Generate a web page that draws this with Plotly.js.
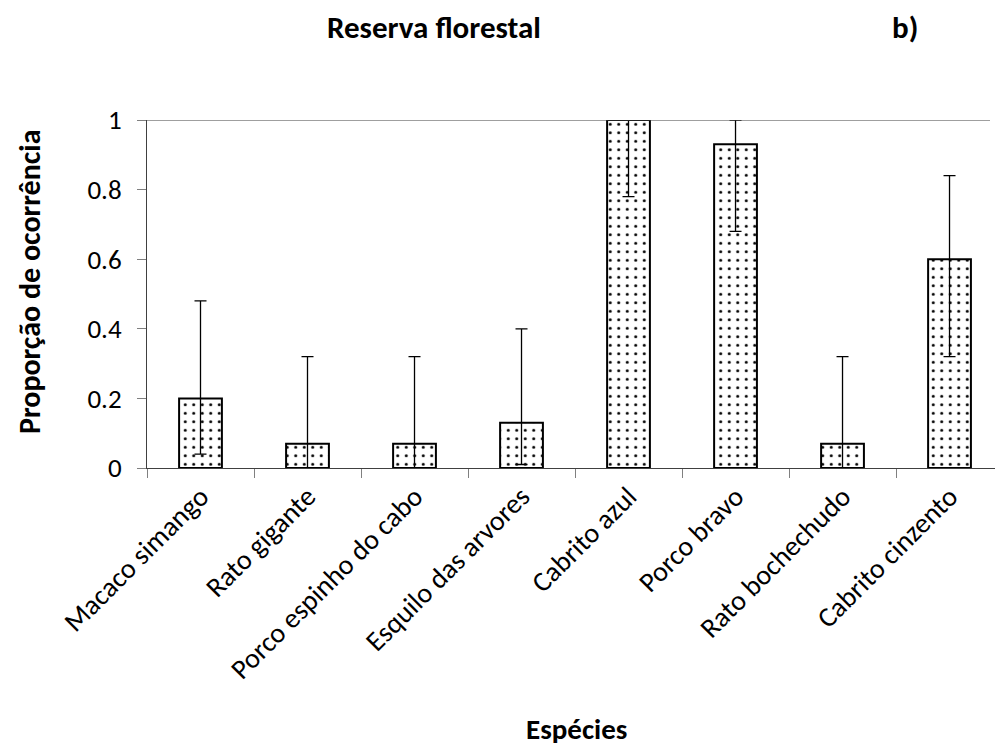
<!DOCTYPE html>
<html>
<head>
<meta charset="utf-8">
<script src="https://cdn.plot.ly/plotly-3.0.1.min.js"></script>
<style>html,body{margin:0;padding:0;background:#fff;}#chart{width:995px;height:749px;}</style>
</head>
<body>
<div id="chart"></div>
<script>
const especies = ["Macaco simango","Rato gigante","Porco espinho do cabo","Esquilo das arvores","Cabrito azul","Porco bravo","Rato bochechudo","Cabrito cinzento"];
const proporcao = [0.20, 0.07, 0.07, 0.13, 1.00, 0.93, 0.07, 0.60];
const limiteSuperior = [0.48, 0.32, 0.32, 0.40, 1.00, 1.00, 0.32, 0.84];
const limiteInferior = [0.04, 0.00, 0.00, 0.01, 0.78, 0.68, 0.00, 0.32];

const errUp = proporcao.map((v,i)=>limiteSuperior[i]-v);
const errDown = proporcao.map((v,i)=>v-limiteInferior[i]);
const FONT = "Carlito, Lato, 'Liberation Sans', sans-serif";

const trace = {
  type: 'bar',
  x: especies,
  y: proporcao,
  width: 0.4,
  marker: {
    color: '#ffffff',
    line: {color: '#000000', width: 2},
    pattern: {shape: '.', fgcolor: '#000000', bgcolor: '#ffffff', size: 8.5, solidity: 0.1}
  },
  error_y: {
    type: 'data', symmetric: false,
    array: errUp, arrayminus: errDown,
    color: '#000000', thickness: 1.3, width: 6
  },
  hoverinfo: 'none'
};

const L = 147, T = 120, B = 281, W = 995, H = 749;
const pw = W - L, ph = H - T - B;
function px(x){ return (x - L) / pw; }
function py(y){ return (H - B - y) / ph; }

const layout = {
  width: W, height: H,
  margin: {l: L, r: 0, t: T, b: B},
  paper_bgcolor: '#ffffff', plot_bgcolor: '#ffffff',
  showlegend: false,
  font: {family: FONT, size: 28, color: '#000000'},
  xaxis: {
    type: 'category',
    range: [-0.5, 7.425],
    tickangle: -45,
    ticks: 'outside', ticklen: 9, tickcolor: '#808080', tickson: 'boundaries',
    showline: true, linecolor: '#404040', linewidth: 1,
    showgrid: false, zeroline: false,
    tickfont: {family: FONT, size: 28, color: '#000000'}
  },
  yaxis: {
    range: [0, 1], dtick: 0.2, tick0: 0,
    ticks: 'outside', ticklen: 9, tickcolor: '#808080',
    ticklabelstandoff: 10,
    showline: true, linecolor: '#404040', linewidth: 1,
    showgrid: false, zeroline: false,
    tickfont: {family: FONT, size: 27, color: '#000000'}
  },
  shapes: [
    {type: 'line', xref: 'paper', yref: 'y', x0: 0, x1: (990 - L) / pw, y0: 1, y1: 1, line: {color: '#404040', width: 1}, layer: 'above'}
  ],
  annotations: [
    {text: '<b>Reserva florestal</b>', x: px(434), y: py(27), font: {family: FONT, size: 31, color: '#000000'}},
    {text: '<b>b)</b>', x: px(905), y: py(27), font: {family: FONT, size: 31, color: '#000000'}},
    {text: '<b>Espécies</b>', x: px(576), y: py(729), font: {family: FONT, size: 29, color: '#000000'}},
    {text: '<b>Proporção de ocorrência</b>', x: px(29), y: py(282), textangle: -90, font: {family: FONT, size: 30, color: '#000000'}}
  ].map(a => Object.assign({xref: 'paper', yref: 'paper', showarrow: false, xanchor: 'center', yanchor: 'middle'}, a))
};

Plotly.newPlot('chart', [trace], layout, {staticPlot: true, displayModeBar: false});
</script>
</body>
</html>
